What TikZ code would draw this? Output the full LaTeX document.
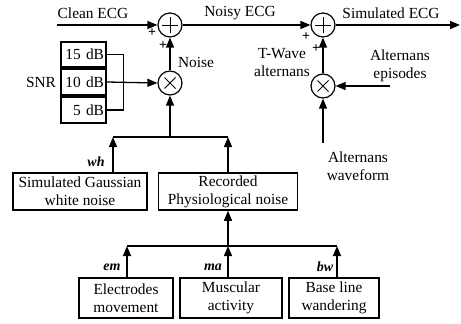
\documentclass[tikz,border=0pt]{standalone}
\usepackage{fontspec}
\setmainfont{Liberation Serif}
\usetikzlibrary{arrows.meta}
\begin{document}
\begin{tikzpicture}[x=1pt,y=-1pt,
  every node/.style={font=\fontsize{15.4}{18}\selectfont, inner sep=0pt},
  blk/.style={draw, line width=1.5pt, align=center, inner xsep=2pt},
  op/.style={draw, circle, line width=1.2pt, minimum size=24pt},
  conn/.style={line width=1.3pt},
  arr/.style={conn, -{Triangle[length=10pt,width=8pt]}},
  sgn/.style={font=\fontsize{14}{14}\selectfont\bfseries},
  lbl/.style={font=\fontsize{14}{16}\selectfont\itshape\bfseries},
  sym/.style={line width=0.9pt}
]
\useasboundingbox (0,0) rectangle (461,324);

% operators
\node[op] (s1) at (170,25) {};
\node[op] (m1) at (170,83) {};
\node[op] (s2) at (323,25) {};
\node[op] (m2) at (323,86) {};
\draw[sym] ([xshift=-8pt]s1.center) -- ([xshift=8pt]s1.center);
\draw[sym] ([yshift=-8pt]s1.center) -- ([yshift=8pt]s1.center);
\draw[sym] ([xshift=-8pt]s2.center) -- ([xshift=8pt]s2.center);
\draw[sym] ([yshift=-8pt]s2.center) -- ([yshift=8pt]s2.center);
\draw[sym] ([shift={(-5.5,-5.5)}]m1.center) -- ([shift={(5.5,5.5)}]m1.center);
\draw[sym] ([shift={(-5.5,5.5)}]m1.center) -- ([shift={(5.5,-5.5)}]m1.center);
\draw[sym] ([shift={(-5.5,-5.5)}]m2.center) -- ([shift={(5.5,5.5)}]m2.center);
\draw[sym] ([shift={(-5.5,5.5)}]m2.center) -- ([shift={(5.5,-5.5)}]m2.center);

% SNR boxes
\node[blk, text width=41pt, align=right, minimum height=25pt] (db15) at (83.5,54.5) {15 dB};
\node[blk, text width=41pt, align=right, minimum height=26pt] (db10) at (83.5,82) {10 dB};
\node[blk, text width=41pt, align=right, minimum height=26pt] (db5) at (83.5,110) {5 dB};
\node (snr) at (41,82) {SNR};

% noise sources
\node[blk, minimum width=134pt, minimum height=37pt] (gauss) at (80,191.5) {Simulated Gaussian\\white noise};
\node[blk, minimum width=139pt, minimum height=37pt] (rec) at (228,191.5) {Recorded\\Physiological noise};
\node[blk, minimum width=94pt, minimum height=40pt] (em) at (126,298) {Electrodes\\movement};
\node[blk, minimum width=102pt, minimum height=40pt] (ma) at (231,298) {Muscular\\activity};
\node[blk, minimum width=90pt, minimum height=40pt] (bw) at (334,298) {Base line\\wandering};

% coordinates
\coordinate (cin) at (57,25);
\coordinate (sout) at (460,25);
\coordinate (j1) at (170,137);
\coordinate (j2) at (228,246);
\coordinate (aein) at (390,86);
\coordinate (awin) at (323,143);

% text labels
\node (tclean) at (93,13) {Clean ECG};
\node (tnoisy) at (240,13) {Noisy ECG};
\node (tsim) at (391,13) {Simulated ECG};
\node (tnoise) at (196,62) {Noise};
\node[align=center] (ttw) at (282,63) {T-Wave\\alternans};
\node[align=center] (tae) at (400,66) {Alternans\\episodes};
\node[align=center] (taw) at (358,166) {Alternans\\waveform};
\node[sgn] at (152,33) {+};
\node[sgn] at (163,46) {+};
\node[sgn] at (306,37) {+};
\node[sgn] at (316,49) {+};
\node[lbl] at (96,162) {wh};
\node[lbl] at (112,267) {em};
\node[lbl] at (213,267) {ma};
\node[lbl] at (325,267) {bw};

% connectors
\draw[arr] (cin) -- (s1.west);
\draw[arr] (s1.east) -- (s2.west);
\draw[arr] (s2.east) -- (sout);
\draw[arr] (m1.north) -- (s1.south);
\draw[arr] (m2.north) -- (s2.south);
\draw[arr] (aein) -- (m2.east);
\draw[arr] (awin) -- (m2.south);
\draw[conn] (db15.east) -- ++(17,0) |- (db5.east);
\draw[arr] (db10.east) -- (m1.west);
\draw[arr] (j1) -- (m1.south);
\draw[conn] ([xshift=33pt]gauss.north |- j1) -- (rec.north |- j1);
\draw[arr] ([xshift=33pt]gauss.north) -- ([xshift=33pt]gauss.north |- j1);
\draw[arr] (rec.north) -- (rec.north |- j1);
\draw[arr] (j2) -- (rec.south);
\draw[conn] ([xshift=1pt]em.north |- j2) -- ([xshift=3pt]bw.north |- j2);
\draw[arr] ([xshift=1pt]em.north) -- ([xshift=1pt]em.north |- j2);
\draw[arr] ([xshift=-3pt]ma.north) -- ([xshift=-3pt]ma.north |- j2);
\draw[arr] ([xshift=3pt]bw.north) -- ([xshift=3pt]bw.north |- j2);
\end{tikzpicture}
\end{document}
